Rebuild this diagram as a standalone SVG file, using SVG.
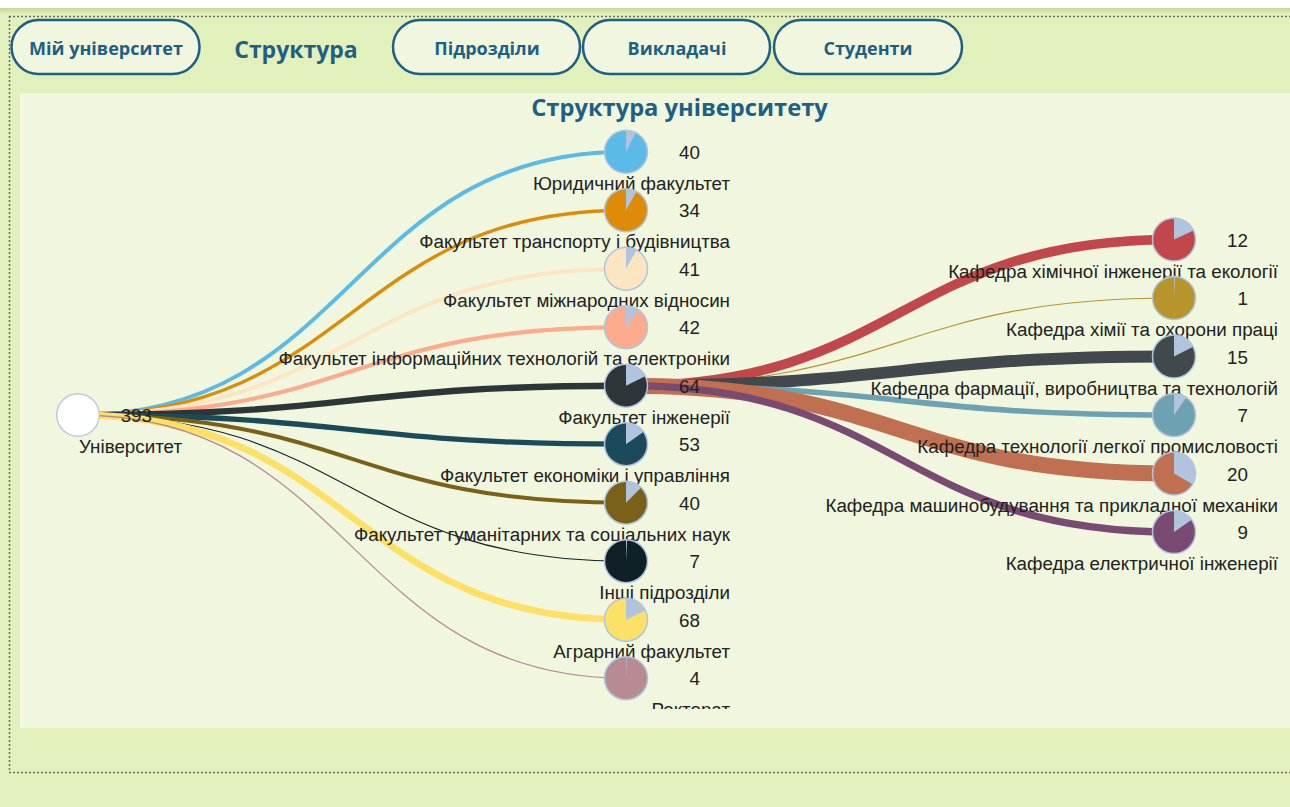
<svg xmlns="http://www.w3.org/2000/svg" width="1290" height="807" viewBox="0 0 1290 807">
<defs>
<linearGradient id="topShade" x1="0" y1="0" x2="0" y2="1">
<stop offset="0" stop-color="#c6d39f"/>
<stop offset="1" stop-color="#e2f0bc"/>
</linearGradient>
<clipPath id="chartClip"><rect x="20" y="93" width="1270" height="616"/></clipPath>
<style>
.btn{fill:#f0f7de;stroke:#1d5f85;stroke-width:2.5}
.btnText{font-family:"Open Sans","Liberation Sans",sans-serif;font-weight:700;font-size:18px;fill:#1d5f85;text-anchor:middle}
.dot{stroke:#6a6a6a;stroke-width:1.5;stroke-dasharray:2 2;fill:none}
.link{fill:none}
.slice{fill:#b0c4de}
.rim{fill:none;stroke:#b0c4de;stroke-width:1.5}
.val{font-family:"Liberation Sans",Arial,sans-serif;font-size:18.8px;fill:#222;text-anchor:end}
.lbl{font-family:"Liberation Sans",Arial,sans-serif;font-size:18.8px;fill:#222;text-anchor:end}
</style>
</defs>
<g id="background">
<rect x="0" y="0" width="1290" height="807" fill="#e2f0bc"/>
<rect x="0" y="0" width="1290" height="8" fill="#ffffff"/>
<rect x="0" y="8" width="1290" height="6" fill="url(#topShade)"/>
<line class="dot" x1="9" y1="16.5" x2="1290" y2="16.5"/>
<line class="dot" x1="9.5" y1="16" x2="9.5" y2="772"/>
<line class="dot" x1="9" y1="772.5" x2="1290" y2="772.5"/>
<rect x="20" y="93" width="1270" height="635" fill="#f0f7de"/>
</g>
<g id="nav">
<g id="btn-my"><rect class="btn" x="11.5" y="20" width="188" height="54" rx="27"/><text class="btnText" x="106" y="54.5">Мій університет</text></g>
<g id="nav-structure"><text x="296" y="58" font-family="'Open Sans','Liberation Sans',sans-serif" font-weight="700" font-size="23px" fill="#1d5f85" text-anchor="middle">Структура</text></g>
<g id="btn-units"><rect class="btn" x="393" y="20" width="187" height="54" rx="27"/><text class="btnText" x="487" y="54.5">Підрозділи</text></g>
<g id="btn-teachers"><rect class="btn" x="583" y="20" width="187" height="54" rx="27"/><text class="btnText" x="677" y="54.5">Викладачі</text></g>
<g id="btn-students"><rect class="btn" x="774" y="20" width="188" height="54" rx="27"/><text class="btnText" x="868" y="54.5">Студенти</text></g>
</g>
<text id="title" x="679.5" y="116" font-family="'Open Sans','Liberation Sans',sans-serif" font-weight="700" font-size="23.7px" fill="#1d5f85" text-anchor="middle">Структура університету</text>
<g clip-path="url(#chartClip)">
<g id="connectors">
<path class="link" stroke="#5cbae6" stroke-width="4" d="M78,415 C352,415 352,151.7 626,151.7"/>
<path class="link" stroke="#de8c07" stroke-width="3.4" d="M78,415 C352,415 352,210.2 626,210.2"/>
<path class="link" stroke="#fde5c2" stroke-width="4.1" d="M78,415 C352,415 352,268.7 626,268.7"/>
<path class="link" stroke="#fcab8d" stroke-width="4.2" d="M78,415 C352,415 352,327.2 626,327.2"/>
<path class="link" stroke="#2c3538" stroke-width="6.4" d="M78,415 C352,415 352,385.7 626,385.7"/>
<path class="link" stroke="#1b4b5b" stroke-width="5.3" d="M78,415 C352,415 352,444.2 626,444.2"/>
<path class="link" stroke="#7b6118" stroke-width="4" d="M78,415 C352,415 352,502.7 626,502.7"/>
<path class="link" stroke="#0f2127" stroke-width="1.1" d="M78,415 C352,415 352,561.2 626,561.2"/>
<path class="link" stroke="#fde066" stroke-width="6.8" d="M78,415 C352,415 352,619.7 626,619.7"/>
<path class="link" stroke="#b78a94" stroke-width="1.3" d="M78,415 C352,415 352,678.2 626,678.2"/>
<path class="link" stroke="#c1474b" stroke-width="9.6" d="M626,385.7 C900,385.7 900,239.5 1174,239.5"/>
<path class="link" stroke="#b7952a" stroke-width="1.2" d="M626,385.7 C900,385.7 900,298 1174,298"/>
<path class="link" stroke="#41494d" stroke-width="12" d="M626,385.7 C900,385.7 900,356.5 1174,356.5"/>
<path class="link" stroke="#6da2b3" stroke-width="5.6" d="M626,385.7 C900,385.7 900,415 1174,415"/>
<path class="link" stroke="#c07050" stroke-width="16" d="M626,385.7 C900,385.7 900,473.5 1174,473.5"/>
<path class="link" stroke="#7a4b72" stroke-width="7.2" d="M626,385.7 C900,385.7 900,532 1174,532"/>
</g>
<g id="node-root" transform="translate(78,415)">
<circle r="21.3" fill="#ffffff" stroke="#b8cce2" stroke-width="1.5"/>
<text class="val" x="74" y="7">393</text>
<text class="lbl" x="104" y="38">Університет</text>
</g>
<g id="node-law" transform="translate(626,151.7)">
<circle r="21.5" fill="#5cbae6"/><path class="slice" d="M0,0 L0,-21.5 A21.5,21.5 0 0 1 9.76,-19.16 Z"/><circle class="rim" r="21.5"/>
<text class="val" x="74" y="7">40</text>
<text class="lbl" x="104" y="38">Юридичний факультет</text>
</g>
<g id="node-transport" transform="translate(626,210.2)">
<circle r="21.5" fill="#de8c07"/><path class="slice" d="M0,0 L0,-21.5 A21.5,21.5 0 0 1 10.42,-18.8 Z"/><circle class="rim" r="21.5"/>
<text class="val" x="74" y="7">34</text>
<text class="lbl" x="104" y="38">Факультет транспорту і будівництва</text>
</g>
<g id="node-intl" transform="translate(626,268.7)">
<circle r="21.5" fill="#fde5c2"/><path class="slice" d="M0,0 L0,-21.5 A21.5,21.5 0 0 1 10.75,-18.62 Z"/><circle class="rim" r="21.5"/>
<text class="val" x="74" y="7">41</text>
<text class="lbl" x="104" y="38">Факультет міжнародних відносин</text>
</g>
<g id="node-it" transform="translate(626,327.2)">
<circle r="21.5" fill="#fcab8d"/><path class="slice" d="M0,0 L0,-21.5 A21.5,21.5 0 0 1 12.33,-17.61 Z"/><circle class="rim" r="21.5"/>
<text class="val" x="74" y="7">42</text>
<text class="lbl" x="104" y="38">Факультет інформаційних технологій та електроніки</text>
</g>
<g id="node-eng" transform="translate(626,385.7)">
<circle r="21.5" fill="#2c3538"/><path class="slice" d="M0,0 L0,-21.5 A21.5,21.5 0 0 1 19.32,-9.42 Z"/><circle class="rim" r="21.5"/>
<text class="val" x="74" y="7">64</text>
<text class="lbl" x="104" y="38">Факультет інженерії</text>
</g>
<g id="node-econ" transform="translate(626,444.2)">
<circle r="21.5" fill="#1b4b5b"/><path class="slice" d="M0,0 L0,-21.5 A21.5,21.5 0 0 1 17.61,-12.33 Z"/><circle class="rim" r="21.5"/>
<text class="val" x="74" y="7">53</text>
<text class="lbl" x="104" y="38">Факультет економіки і управління</text>
</g>
<g id="node-hum" transform="translate(626,502.7)">
<circle r="21.5" fill="#7b6118"/><path class="slice" d="M0,0 L0,-21.5 A21.5,21.5 0 0 1 15.2,-15.2 Z"/><circle class="rim" r="21.5"/>
<text class="val" x="74" y="7">40</text>
<text class="lbl" x="104" y="38">Факультет гуманітарних та соціальних наук</text>
</g>
<g id="node-other" transform="translate(626,561.2)">
<circle r="21.5" fill="#0f2127"/><path class="slice" d="M0,0 L0,-21.5 A21.5,21.5 0 0 1 1.13,-21.47 Z"/><circle class="rim" r="21.5"/>
<text class="val" x="74" y="7">7</text>
<text class="lbl" x="104" y="38">Інші підрозділи</text>
</g>
<g id="node-agro" transform="translate(626,619.7)">
<circle r="21.5" fill="#fde066"/><path class="slice" d="M0,0 L0,-21.5 A21.5,21.5 0 0 1 19.49,-9.09 Z"/><circle class="rim" r="21.5"/>
<text class="val" x="74" y="7">68</text>
<text class="lbl" x="104" y="38">Аграрний факультет</text>
</g>
<g id="node-rector" transform="translate(626,678.2)">
<circle r="21.5" fill="#b78a94"/><path class="slice" d="M0,0 L0,-21.5 A21.5,21.5 0 0 1 0.75,-21.49 Z"/><circle class="rim" r="21.5"/>
<text class="val" x="74" y="7">4</text>
<text class="lbl" x="104" y="38">Ректорат</text>
</g>
<g id="node-chemeng" transform="translate(1174,239.5)">
<circle r="21.5" fill="#c1474b"/><path class="slice" d="M0,0 L0,-21.5 A21.5,21.5 0 0 1 19.49,-9.09 Z"/><circle class="rim" r="21.5"/>
<text class="val" x="74" y="7">12</text>
<text class="lbl" x="104" y="38">Кафедра хімічної інженерії та екології</text>
</g>
<g id="node-chem" transform="translate(1174,298)">
<circle r="21.5" fill="#b7952a"/><path class="slice" d="M0,0 L0,-21.5 A21.5,21.5 0 0 1 1.13,-21.47 Z"/><circle class="rim" r="21.5"/>
<text class="val" x="74" y="7">1</text>
<text class="lbl" x="104" y="38">Кафедра хімії та охорони праці</text>
</g>
<g id="node-pharm" transform="translate(1174,356.5)">
<circle r="21.5" fill="#41494d"/><path class="slice" d="M0,0 L0,-21.5 A21.5,21.5 0 0 1 19.16,-9.76 Z"/><circle class="rim" r="21.5"/>
<text class="val" x="74" y="7">15</text>
<text class="lbl" x="104" y="38">Кафедра фармації, виробництва та технологій</text>
</g>
<g id="node-light" transform="translate(1174,415)">
<circle r="21.5" fill="#6da2b3"/><path class="slice" d="M0,0 L0,-21.5 A21.5,21.5 0 0 1 12.33,-17.61 Z"/><circle class="rim" r="21.5"/>
<text class="val" x="74" y="7">7</text>
<text class="lbl" x="104" y="38">Кафедра технології легкої промисловості</text>
</g>
<g id="node-mech" transform="translate(1174,473.5)">
<circle r="21.5" fill="#c07050"/><path class="slice" d="M0,0 L0,-21.5 A21.5,21.5 0 0 1 18.62,10.75 Z"/><circle class="rim" r="21.5"/>
<text class="val" x="74" y="7">20</text>
<text class="lbl" x="104" y="38">Кафедра машинобудування та прикладної механіки</text>
</g>
<g id="node-elec" transform="translate(1174,532)">
<circle r="21.5" fill="#7a4b72"/><path class="slice" d="M0,0 L0,-21.5 A21.5,21.5 0 0 1 17.61,-12.33 Z"/><circle class="rim" r="21.5"/>
<text class="val" x="74" y="7">9</text>
<text class="lbl" x="104" y="38">Кафедра електричної інженерії</text>
</g>
</g>
</svg>
